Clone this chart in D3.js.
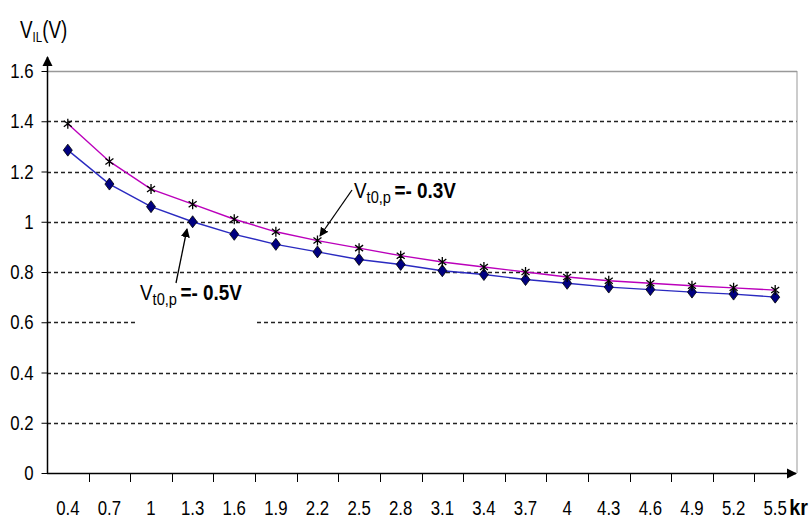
<!DOCTYPE html>
<html><head><meta charset="utf-8">
<script src="https://cdn.jsdelivr.net/npm/d3@7"></script>
<style>
body{margin:0;background:#fff;}
text{font-family:"Liberation Sans Narrow","Arial Narrow","Liberation Sans",sans-serif;}
</style></head>
<body><svg id="c" width="809" height="521"></svg>
<script>
const categories = ["0.4","0.7","1","1.3","1.6","1.9","2.2","2.5","2.8","3.1","3.4","3.7","4","4.3","4.6","4.9","5.2","5.5"];
const seriesMinus03 = [1.39,1.24,1.13,1.07,1.01,0.96,0.925,0.895,0.865,0.84,0.82,0.80,0.78,0.765,0.755,0.745,0.737,0.728];
const seriesMinus05 = [1.285,1.15,1.06,1.00,0.95,0.91,0.88,0.85,0.83,0.805,0.79,0.77,0.755,0.74,0.73,0.72,0.712,0.70];
const yTicks = [0,0.2,0.4,0.6,0.8,1,1.2,1.4,1.6];

const SX = 0.8;
const svg = d3.select("#c");
const x0 = 47, x1 = 796, yBase = 473, yTop = 71;
const x = d3.scaleBand().domain(categories).range([x0, x1]);
const y = d3.scaleLinear().domain([0,1.6]).range([yBase, yTop]);
const cx = d => x(d) + x.bandwidth()/2;

const defs = svg.append("defs");
defs.append("marker").attr("id","ah").attr("viewBox","0 0 10 10").attr("refX",9).attr("refY",5)
  .attr("markerWidth",7).attr("markerHeight",7).attr("orient","auto")
  .append("path").attr("d","M0,0L10,5L0,10z").attr("fill","#000");

// gridlines
svg.append("g").selectAll("line").data(yTicks.filter(t=>t>0 && t<1.6)).join("line")
  .attr("x1",x0).attr("x2",x1+1).attr("y1",d=>Math.round(y(d))+0.5).attr("y2",d=>Math.round(y(d))+0.5)
  .attr("stroke","#222").attr("stroke-width",1.5).attr("stroke-dasharray","4,3");
// frame top and right
svg.append("line").attr("x1",x0).attr("x2",x1+1).attr("y1",yTop+0.5).attr("y2",yTop+0.5).attr("stroke","#999").attr("stroke-width",1.5);
svg.append("line").attr("x1",x1+1).attr("x2",x1+1).attr("y1",yTop).attr("y2",yBase).attr("stroke","#999").attr("stroke-width",1);

// white box behind -0.5 label
svg.append("rect").attr("x",137).attr("y",279).attr("width",118).attr("height",46).attr("fill","#fff");

// y axis
const yAxis = d3.axisLeft(y).tickValues(yTicks).tickSize(6).tickFormat(d=>d===0?"0":d3.format(".1f")(d).replace(/\.0$/,""));
const gy = svg.append("g").attr("transform",`translate(${x0+0.5},0)`).call(yAxis);
gy.select(".domain").remove();
gy.selectAll(".tick line").attr("stroke","#000");
gy.selectAll(".tick text").attr("font-size",21).attr("fill","#000").attr("x",-14/SX).attr("transform",`scale(${SX},1)`);
svg.append("line").attr("x1",x0+0.5).attr("x2",x0+0.5).attr("y1",yBase).attr("y2",57).attr("stroke","#000").attr("stroke-width",1.5).attr("marker-end","url(#ah)");

// x axis
const xAxis = d3.axisBottom(x).tickSize(0).tickPadding(0);
const gx = svg.append("g").attr("transform",`translate(0,${yBase+0.5})`).call(xAxis);
gx.select(".domain").remove();
gx.selectAll(".tick text").attr("font-size",21).attr("fill","#000").attr("dy",null).attr("y",42).attr("transform",`scale(${SX},1)`);
svg.append("g").selectAll("line").data(categories.slice(1)).join("line")
  .attr("x1",d=>Math.round(x(d))+0.5).attr("x2",d=>Math.round(x(d))+0.5).attr("y1",yBase).attr("y2",yBase+9).attr("stroke","#000");
svg.append("line").attr("x1",x0).attr("x2",796).attr("y1",yBase+0.5).attr("y2",yBase+0.5).attr("stroke","#000").attr("stroke-width",1.5).attr("marker-end","url(#ah)");

// lines
const line = d3.line().x((d,i)=>cx(categories[i])).y(d=>y(d));
svg.append("path").datum(seriesMinus03).attr("d",line).attr("fill","none").attr("stroke","#bb00bb").attr("stroke-width",1.4);
svg.append("path").datum(seriesMinus05).attr("d",line).attr("fill","none").attr("stroke","#2a2ac0").attr("stroke-width",1.4);

// diamonds
svg.append("g").selectAll("path").data(seriesMinus05).join("path")
  .attr("transform",(d,i)=>`translate(${cx(categories[i])},${y(d)})`)
  .attr("d","M0,-6L4.5,0L0,6L-4.5,0Z").attr("fill","#000080").attr("stroke","#000").attr("stroke-width",0.8);
// asterisks
svg.append("g").selectAll("path").data(seriesMinus03).join("path")
  .attr("transform",(d,i)=>`translate(${cx(categories[i])},${y(d)})`)
  .attr("d","M0,-5L0,5M-4,-3L4,3M-4,3L4,-3").attr("fill","none").attr("stroke","#000").attr("stroke-width",1.3);

// annotations
function vlabel(xp, yp, val){
  const t = svg.append("text").attr("transform",`translate(${xp},${yp}) scale(0.86,1)`).attr("font-size",22).attr("fill","#000");
  t.append("tspan").text("V");
  t.append("tspan").attr("dy",5).attr("font-size",17).text("t0,p");
  t.append("tspan").attr("dy",-5).attr("font-weight","bold").attr("dx",4).text("=- "+val);
}
vlabel(354, 198, "0.3V");
vlabel(140, 300, "0.5V");
svg.append("line").attr("x1",352).attr("y1",190).attr("x2",320).attr("y2",236).attr("stroke","#000").attr("stroke-width",1.3).attr("marker-end","url(#ah)");
svg.append("line").attr("x1",176).attr("y1",283).attr("x2",187).attr("y2",229).attr("stroke","#000").attr("stroke-width",1.3).attr("marker-end","url(#ah)");

// axis titles
const yl = svg.append("text").attr("transform","translate(20,38) scale(0.82,1)").attr("font-size",23).attr("fill","#000");
yl.append("tspan").text("V");
yl.append("tspan").attr("dy",4).attr("font-size",14).text("IL");
yl.append("tspan").attr("dy",-4).text("(V)");
svg.append("text").attr("transform","translate(808,515) scale(0.9,1)").attr("text-anchor","end").attr("font-size",22).attr("font-weight","bold").attr("fill","#000").text("kr");
</script></body></html>
